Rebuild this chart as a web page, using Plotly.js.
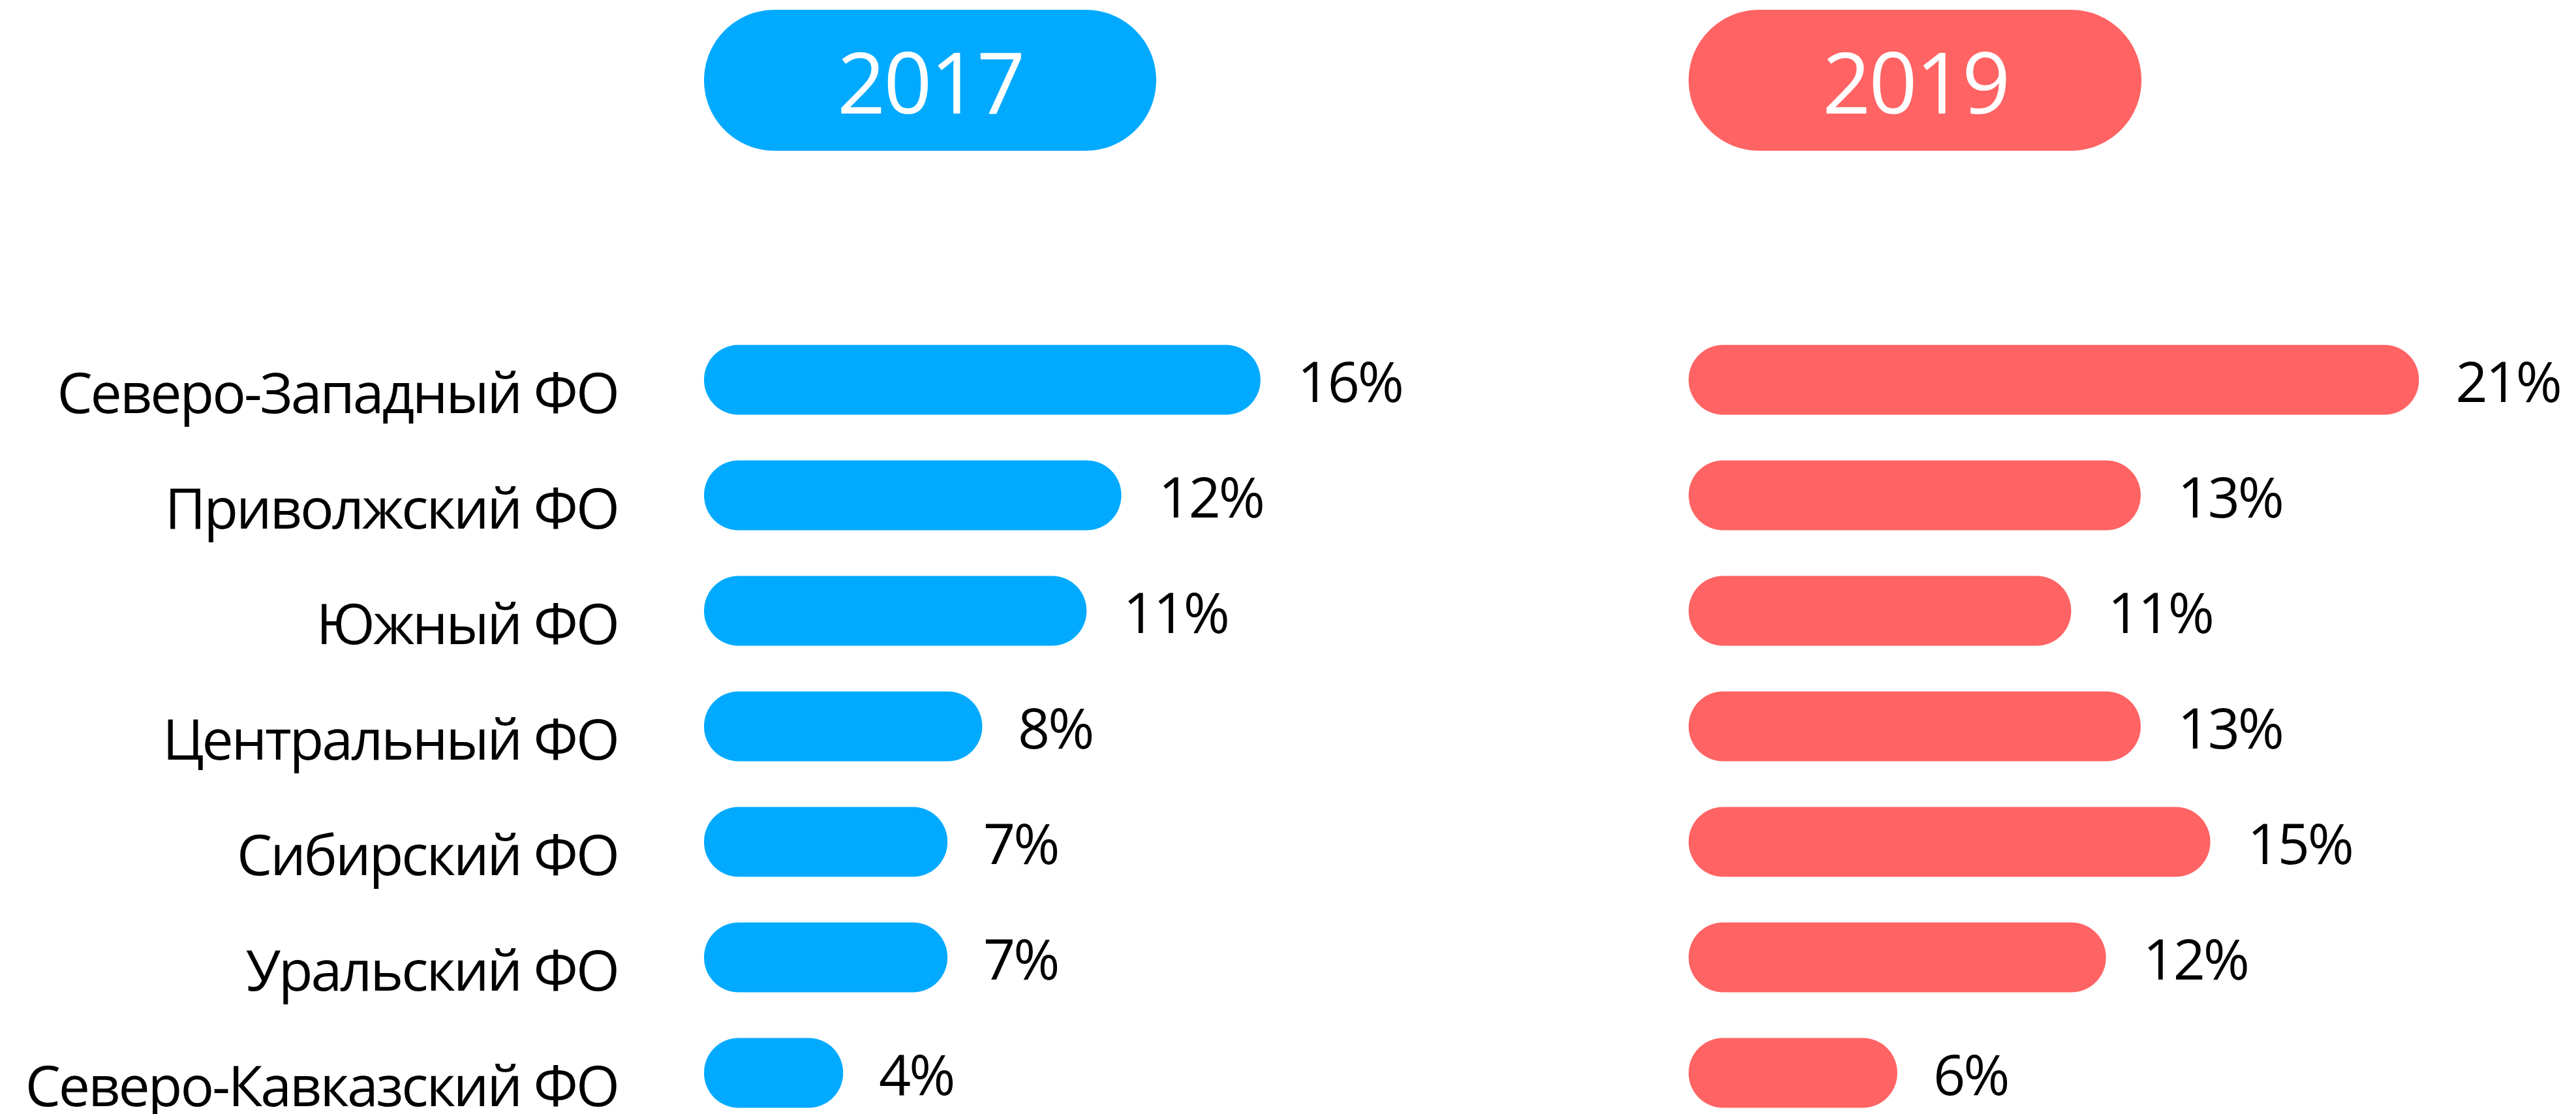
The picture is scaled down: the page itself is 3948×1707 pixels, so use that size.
<!DOCTYPE html>
<html>
<head>
<meta charset="utf-8">
<script src="https://cdn.plot.ly/plotly-3.0.1.min.js"></script>
<style>
html,body{margin:0;padding:0;background:#fff;}
#chart{width:3948px;height:1707px;}
#chart text{letter-spacing:-3px;}
</style>
</head>
<body>
<div id="chart"></div>
<script>
// ---- data ----
const regions = ["Северо-Западный ФО", "Приволжский ФО", "Южный ФО", "Центральный ФО", "Сибирский ФО", "Уральский ФО", "Северо-Кавказский ФО"];
const values2017 = [16, 12, 11, 8, 7, 7, 4];
const values2019 = [21, 13, 11, 13, 15, 12, 6];
const years = ["2017", "2019"];

// ---- style ----
const W = 3948, H = 1707;
const BLUE = "#02AAFF", RED = "#FF6363";
const FONT = "Open Sans, Noto Sans, sans-serif";

function px2x(p) { return p / W; }
function px2y(p) { return 1 - p / H; }
function pillPath(x0, x1, y0, y1) {
  const r = (y1 - y0) / 2, k = 0.5523 * r, cy = y0 + r;
  const P = (x, y) => px2x(x).toFixed(6) + "," + px2y(y).toFixed(6);
  return "M" + P(x0 + r, y0) + " L" + P(x1 - r, y0) +
    " C" + P(x1 - r + k, y0) + " " + P(x1, cy - k) + " " + P(x1, cy) +
    " C" + P(x1, cy + k) + " " + P(x1 - r + k, y1) + " " + P(x1 - r, y1) +
    " L" + P(x0 + r, y1) +
    " C" + P(x0 + r - k, y1) + " " + P(x0, cy + k) + " " + P(x0, cy) +
    " C" + P(x0, cy - k) + " " + P(x0 + r - k, y0) + " " + P(x0 + r, y0) + " Z";
}

// An explicit base makes Plotly round both ends of each bar.
function pillBars(vals, xa, color) {
  return [{ type: "bar", orientation: "h", y: regions, x: vals, base: vals.map(() => 0),
    xaxis: xa, yaxis: "y",
    marker: { color: color, cornerradius: "50%", line: { width: 0 } }, hoverinfo: "skip" }];
}

const traces = [].concat(pillBars(values2017, "x", BLUE), pillBars(values2019, "x2", RED));

const annotations = [];
const valFont = { family: FONT, size: 86, color: "#000" };
values2017.forEach((v, i) => annotations.push({
  x: v, y: regions[i], xref: "x", yref: "y", text: v + "%", showarrow: false,
  xanchor: "left", yanchor: "middle", xshift: 50, font: valFont
}));
values2019.forEach((v, i) => annotations.push({
  x: v, y: regions[i], xref: "x2", yref: "y", text: v + "%", showarrow: false,
  xanchor: "left", yanchor: "middle", xshift: 50, font: valFont
}));

const pills = [[1079, 1772, BLUE], [2588, 3282, RED]];
const shapes = pills.map(p => ({
  type: "path", xref: "paper", yref: "paper", path: pillPath(p[0], p[1], 15, 231),
  fillcolor: p[2], line: { width: 0 }, layer: "below"
}));
pills.forEach((p, i) => annotations.push({
  xref: "paper", yref: "paper", x: px2x((p[0] + p[1]) / 2), y: px2y(123),
  text: years[i], showarrow: false, xanchor: "center", yanchor: "middle",
  font: { family: FONT, size: 130, color: "#fff" }
}));

const layout = {
  width: W, height: H,
  margin: { l: 0, r: 0, t: 0, b: 0, pad: 0 },
  paper_bgcolor: "#fff", plot_bgcolor: "#fff",
  showlegend: false, bargap: 0.395, barmode: "overlay",
  font: { family: FONT, color: "#000" },
  xaxis: { domain: [px2x(1079), px2x(1079 + 20 * 53.3)], range: [0, 20], visible: false, fixedrange: true },
  xaxis2: { domain: [px2x(2588), px2x(2588 + 25 * 53.3)], range: [0, 25], visible: false, anchor: "y", fixedrange: true },
  yaxis: {
    type: "category", range: [(H - 582) / 177, -582 / 177], autorange: false,
    showgrid: false, zeroline: false, showline: false, ticks: "",
    ticklabelstandoff: 131, ticklabelshift: -21,
    tickfont: { family: FONT, size: 86, color: "#000" }, fixedrange: true
  },
  shapes: shapes,
  annotations: annotations
};

Plotly.newPlot("chart", traces, layout, { staticPlot: true, displayModeBar: false });
</script>
</body>
</html>
